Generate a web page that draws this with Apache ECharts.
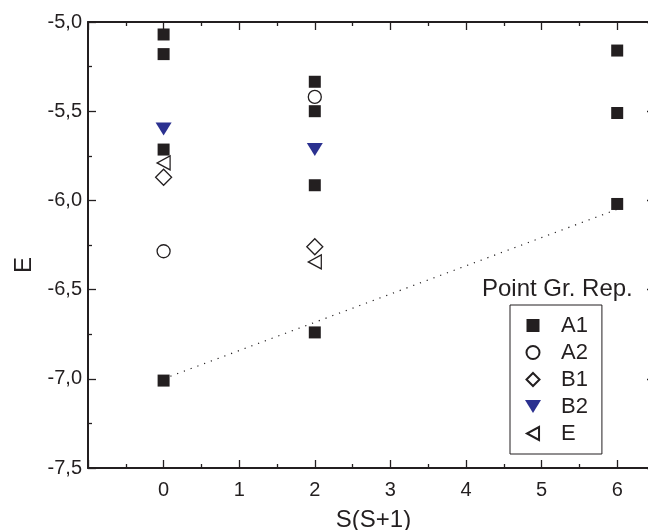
<!DOCTYPE html>
<html>
<head>
<meta charset="utf-8">
<script src="https://cdn.jsdelivr.net/npm/echarts@6/dist/echarts.min.js"></script>
<style>html,body{margin:0;padding:0;background:#fff;}#c{width:648px;height:530px;}</style>
</head>
<body>
<div id="c"></div>
<script>
// ---- data ----
const seriesNames = ['A1', 'A2', 'B1', 'B2', 'E'];
const a1X = [0, 0, 0, 0, 2, 2, 2, 2, 6, 6, 6];
const a1Y = [-5.07, -5.18, -5.715, -7.01, -5.335, -5.50, -5.915, -6.74, -5.16, -5.51, -6.02];
const a2X = [0, 2];
const a2Y = [-6.285, -5.42];
const b1X = [0, 2];
const b1Y = [-5.87, -6.26];
const b2X = [0, 2];
const b2Y = [-5.60, -5.715];
const eX = [0, 2];
const eY = [-5.79, -6.345];
const trendX = [0, 6];
const trendY = [-7.0, -6.05];
const xTitle = 'S(S+1)';
const yTitle = 'E';
const legendTitle = 'Point Gr. Rep.';

const pairs = (xs, ys) => xs.map((x, i) => [x, ys[i]]);
const FONT = 'Liberation Sans, Arial, Helvetica, sans-serif';
const INK = '#231f20';
const NAVY = '#2b3190';

const axisCommon = {
  axisLine: { show: true, onZero: false, lineStyle: { color: INK, width: 2 } },
  axisTick: { show: true, inside: true, length: 8, lineStyle: { color: INK, width: 1.3 } },
  minorTick: { show: true, splitNumber: 2, length: 4, lineStyle: { color: INK, width: 1.3 } },
  splitLine: { show: false },
  minorSplitLine: { show: false }
};

const chart = echarts.init(document.getElementById('c'), null, { renderer: 'canvas' });
chart.setOption({
  animation: false,
  backgroundColor: '#fff',
  textStyle: { fontFamily: FONT },
  title: {
    text: legendTitle, left: 482, top: 277, padding: 0,
    textStyle: { fontFamily: FONT, fontSize: 24, fontWeight: 'normal', color: INK }
  },
  grid: { left: 88, top: 22, width: 567, height: 446, outerBoundsMode: 'none', containLabel: false },
  legend: {
    data: seriesNames,
    orient: 'vertical',
    left: 510, top: 305,
    padding: [7, 14, 7, 15],
    itemGap: 0,
    itemWidth: 46, itemHeight: 13,
    symbolKeepAspect: true,
    borderColor: INK, borderWidth: 1,
    textStyle: { fontFamily: FONT, fontSize: 22, color: INK, lineHeight: 27 }
  },
  xAxis: [
    Object.assign({}, axisCommon, {
      type: 'value', position: 'bottom', min: -1, max: 6.5, interval: 1,
      axisLabel: { show: true, margin: 12, fontSize: 20, color: INK, fontFamily: FONT,
        formatter: v => (v < 0 || v > 6 ? '' : String(v)) },
      name: xTitle, nameLocation: 'middle', nameGap: 40,
      nameTextStyle: { fontSize: 24, color: INK, fontFamily: FONT, padding: [0, 0, 0, 4] }
    }),
    Object.assign({}, axisCommon, {
      type: 'value', position: 'top', min: -1, max: 6.5, interval: 1,
      axisLabel: { show: false }
    })
  ],
  yAxis: [
    Object.assign({}, axisCommon, {
      type: 'value', position: 'left', min: -7.5, max: -5, interval: 0.5,
      axisLabel: { show: true, margin: 6, fontSize: 20, color: INK, fontFamily: FONT,
        formatter: v => v.toFixed(1).replace('.', ',') },
      name: yTitle, nameLocation: 'middle', nameGap: 52,
      nameTextStyle: { fontSize: 24, color: INK, fontFamily: FONT, padding: [0, 40, 0, 0] }
    }),
    Object.assign({}, axisCommon, {
      type: 'value', position: 'right', min: -7.5, max: -5, interval: 0.5,
      axisLabel: { show: false }
    })
  ],
  series: [
    {
      name: 'trend', type: 'line', data: pairs(trendX, trendY), symbol: 'none',
      lineStyle: { color: INK, width: 1.2, type: [1.2, 6] }, silent: true, z: 1
    },
    {
      name: 'A1', type: 'scatter', data: pairs(a1X, a1Y), symbol: 'path://M0,0 L12,0 L12,12 L0,12 Z', symbolSize: 12,
      symbolKeepAspect: true,
      itemStyle: { color: INK, opacity: 1 }, z: 3
    },
    {
      name: 'A2', type: 'scatter', data: pairs(a2X, a2Y), symbol: 'circle', symbolSize: 13,
      itemStyle: { color: 'rgba(255,255,255,0)', borderColor: INK, borderWidth: 1.3, opacity: 1 }, z: 3
    },
    {
      name: 'B1', type: 'scatter', data: pairs(b1X, b1Y), symbol: 'path://M8,0 L16,8 L8,16 L0,8 Z', symbolSize: [16, 16],
      symbolKeepAspect: true,
      itemStyle: { color: 'rgba(255,255,255,0)', borderColor: INK, borderWidth: 1.3, opacity: 1 }, z: 3
    },
    {
      name: 'B2', type: 'scatter', data: pairs(b2X, b2Y), symbol: 'path://M0,0 L16,0 L8,13 Z', symbolSize: [16, 13],
      itemStyle: { color: NAVY, opacity: 1 }, z: 3
    },
    {
      name: 'E', type: 'scatter', data: pairs(eX, eY), symbol: 'path://M13,0 L13,14 L0,7 Z', symbolSize: [13, 14],
      itemStyle: { color: 'rgba(255,255,255,0)', borderColor: INK, borderWidth: 1.3, opacity: 1 }, z: 3
    }
  ]
});
</script>
</body>
</html>
